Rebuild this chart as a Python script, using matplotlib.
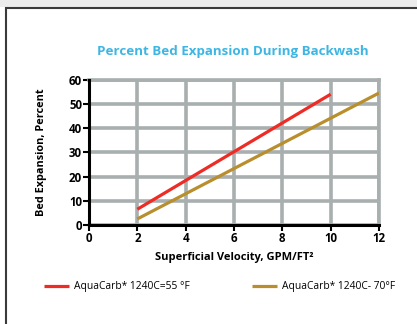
import matplotlib
matplotlib.use("Agg")
import matplotlib.pyplot as plt
from matplotlib.patches import Rectangle

plt.rcParams['font.family'] = ['Open Sans', 'DejaVu Sans']

# bed expansion vs. superficial velocity
vel_55 = [2, 10]
exp_55 = [6.5, 54]
vel_70 = [2, 12]
exp_70 = [2.5, 54.5]

label_55 = "AquaCarb* 1240C=55 °F"
label_70 = "AquaCarb* 1240C- 70°F"
x_ticks = [0, 2, 4, 6, 8, 10, 12]
y_ticks = [0, 10, 20, 30, 40, 50, 60]

red = "#ee2b25"
tan = "#b98f2e"
grid_c = "#a8afae"
blue = "#3db6e3"

fig = plt.figure(figsize=(4.17, 3.24), dpi=100)
fig.patch.set_facecolor("white")

# grey strip at the top and the box outline
fig.add_artist(Rectangle((0, 1 - 7 / 324), 1, 7 / 324, transform=fig.transFigure,
                         facecolor="#ececec", edgecolor="none"))
fig.add_artist(Rectangle((5.5 / 417, -0.1), 1.2, 1.1 - 8.5 / 324, transform=fig.transFigure,
                         facecolor="none", edgecolor="#3a3a3a", linewidth=1.5))

ax = fig.add_axes([89 / 417, 1 - 225 / 324, 290 / 417, 145.3 / 324])
ax.set_xlim(0, 12)
ax.set_ylim(0, 60)
ax.set_xticks(x_ticks)
ax.set_yticks(y_ticks)
ax.grid(True, color=grid_c, linewidth=2.6)
ax.set_axisbelow(True)

for s in ["top", "right"]:
    ax.spines[s].set_color(grid_c)
    ax.spines[s].set_linewidth(2.6)
for s in ["left", "bottom"]:
    ax.spines[s].set_color("black")
    ax.spines[s].set_linewidth(2.2)
    ax.spines[s].set_zorder(5)

ax.tick_params(axis="y", length=4, width=1.5, color="black", pad=1)
ax.tick_params(axis="x", length=4, width=1.5, color="black", pad=1)
for lab in ax.get_xticklabels() + ax.get_yticklabels():
    lab.set_fontweight("bold")
    lab.set_fontsize(8.3)

l1, = ax.plot(vel_55, exp_55, color=red, linewidth=2.3, solid_capstyle="butt", zorder=4)
l2, = ax.plot(vel_70, exp_70, color=tan, linewidth=2.3, solid_capstyle="butt", zorder=4)

ax.set_xlabel("Superficial Velocity, GPM/FT²", fontsize=8, fontweight="bold", labelpad=5)
ax.set_ylabel("Bed Expansion, Percent", fontsize=7.8, fontweight="bold", labelpad=16)

fig.text(233 / 417, 1 - 52 / 324, "Percent Bed Expansion During Backwash",
         color=blue, fontsize=9.6, fontweight="bold", ha="center", va="center")

fig.legend([l1], [label_55], loc="center left", bbox_to_anchor=(35 / 417, 1 - 287 / 324),
           frameon=False, fontsize=7.4, handlelength=2.4, handletextpad=0.5)
fig.legend([l2], [label_70], loc="center left", bbox_to_anchor=(243 / 417, 1 - 287 / 324),
           frameon=False, fontsize=7.4, handlelength=2.4, handletextpad=0.5)

fig.savefig("out.png", dpi=100)
